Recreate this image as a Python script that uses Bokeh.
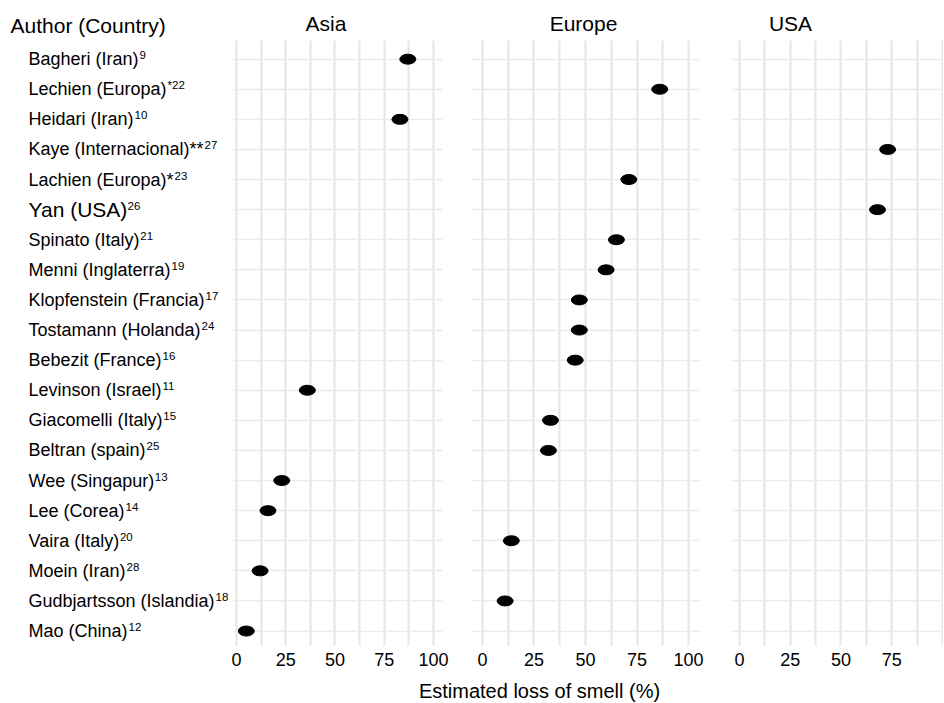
from bokeh.plotting import figure
from bokeh.layouts import row, column
from bokeh.models import Range1d, FixedTicker, ColumnDataSource
from bokeh.core.properties import value
from bokeh.embed import file_html
from bokeh.resources import INLINE

# ---------------- data ----------------
authors = [
    "Bagheri (Iran)",
    "Lechien (Europa)",
    "Heidari (Iran)",
    "Kaye (Internacional)**",
    "Lachien (Europa)*",
    "Yan (USA)",
    "Spinato (Italy)",
    "Menni (Inglaterra)",
    "Klopfenstein (Francia)",
    "Tostamann (Holanda)",
    "Bebezit (France)",
    "Levinson (Israel)",
    "Giacomelli (Italy)",
    "Beltran (spain)",
    "Wee (Singapur)",
    "Lee (Corea)",
    "Vaira (Italy)",
    "Moein (Iran)",
    "Gudbjartsson (Islandia)",
    "Mao (China)",
]
refs = ["9", "*22", "10", "27", "23", "26", "21", "19", "17", "24",
        "16", "11", "15", "25", "13", "14", "20", "28", "18", "12"]
regions = [
    "Asia", "Europe", "Asia", "USA", "Europe", "USA", "Europe", "Europe",
    "Europe", "Europe", "Europe", "Asia", "Europe", "Europe", "Asia", "Asia",
    "Europe", "Asia", "Europe", "Asia",
]
loss = [87, 86, 83, 73, 71, 68, 65, 60, 47, 47, 45, 36, 33, 32, 23, 16, 14, 12, 11, 5]

panels = ["Asia", "Europe", "USA"]
x_ticks = [0, 25, 50, 75, 100]
x_grid = [0, 12.5, 25, 37.5, 50, 62.5, 75, 87.5, 100]
y_title = "Author (Country)"
x_title = "Estimated loss of smell (%)"

# ---------------- styling / layout ----------------
FONT = "Liberation Sans"
FRAME_H = 605
BOTTOM = 30
n = len(authors)
row_idx = list(range(1, n + 1))
y_range = Range1d(n + 0.48, 0.38)

# Arial / Liberation Sans advance widths (1/1000 em) for label layout
_W = {" ": 278, "(": 333, ")": 333, "*": 389}
_W.update(dict(zip("ABCDEFGHIJKLMNOPQRSTUVWXYZ",
                   [667, 667, 722, 722, 667, 611, 778, 722, 278, 500, 667, 556, 833,
                    722, 778, 667, 778, 722, 667, 611, 722, 667, 944, 667, 667, 611])))
_W.update(dict(zip("abcdefghijklmnopqrstuvwxyz",
                   [556, 556, 500, 556, 556, 278, 556, 556, 222, 222, 500, 222, 833,
                    556, 556, 556, 556, 333, 500, 278, 556, 500, 722, 500, 500, 500])))
_KERN = {"To": -111, "Ya": -111, "Va": -74, "We": -37, "ly": -15}


def text_w(s, size):
    w = sum(_W.get(c, 556) for c in s)
    w += sum(_KERN.get(s[i:i + 2], 0) for i in range(len(s) - 1))
    return w / 1000.0 * size


panel_specs = {
    "Asia":   dict(fw=210, xr=(-2.0, 104.6), bl=4, br=28, ticks=x_ticks),
    "Europe": dict(fw=229, xr=(-5.8, 105.3), bl=0, br=32, ticks=x_ticks),
    "USA":    dict(fw=212, xr=(-3.9, 100.5), bl=0, br=0, ticks=x_ticks[:-1]),
}
title_centers = {"Asia": 325.5, "Europe": 583, "USA": 790}
TOTAL_W = 943


def blank(width, height, xr, yr):
    f = figure(frame_width=width, frame_height=height, x_range=xr, y_range=yr,
               toolbar_location=None, output_backend="svg",
               x_axis_location=None, y_axis_location=None,
               min_border_left=0, min_border_right=0, min_border_top=0, min_border_bottom=0,
               outline_line_color=None)
    f.grid.visible = False
    return f


# header with strip titles
header = blank(TOTAL_W, 40, Range1d(0, TOTAL_W), Range1d(40, 0))
header.text(x=[10], y=[25], text=[y_title], text_font=value(FONT), text_font_size=value("21px"),
            text_align="left", text_baseline="middle", text_color="black")
for name in panels:
    header.text(x=[title_centers[name]], y=[23], text=[name], text_font=value(FONT),
                text_font_size=value("21px"), text_align="center", text_baseline="middle",
                text_color="black")

# labels column (main text + superscript reference numbers)
LAB_X = 28
sizes = [21 if a.startswith("Yan") else 18 for a in authors]
labels = blank(228, FRAME_H, Range1d(0, 228), y_range)
labels.min_border_bottom = BOTTOM
lab_src = ColumnDataSource(dict(
    x=[LAB_X] * n, y=row_idx, text=authors, size=["%dpx" % s for s in sizes],
))
labels.text(x="x", y="y", text="text", source=lab_src, text_font=value(FONT),
            text_font_size="size", text_align="left", text_baseline="middle",
            text_color="black")
sup_src = ColumnDataSource(dict(
    x=[LAB_X + text_w(a, s) + 1 for a, s in zip(authors, sizes)], y=row_idx, text=refs,
))
labels.text(x="x", y="y", text="text", source=sup_src, text_font=value(FONT),
            text_font_size=value("11.5px"), text_align="left", text_baseline="middle",
            y_offset=-4, text_color="black")

figs = [labels]
for name in panels:
    s = panel_specs[name]
    p = figure(frame_width=s["fw"], frame_height=FRAME_H, x_range=Range1d(*s["xr"]),
               y_range=y_range, toolbar_location=None, output_backend="svg",
               y_axis_location=None, min_border_left=s["bl"], min_border_right=s["br"],
               min_border_top=0, min_border_bottom=BOTTOM, outline_line_color=None)
    p.xaxis.ticker = FixedTicker(ticks=s["ticks"])
    p.xaxis.axis_line_color = None
    p.xaxis.major_tick_line_color = None
    p.xaxis.minor_tick_line_color = None
    p.xaxis.major_tick_out = 0
    p.xaxis.major_tick_in = 0
    p.xaxis.major_label_standoff = 7
    p.xaxis.major_label_text_font = FONT
    p.xaxis.major_label_text_font_size = "18px"
    p.xaxis.major_label_text_color = "black"
    p.xgrid.ticker = FixedTicker(ticks=x_grid)
    p.xgrid.grid_line_color = "#e4e4e4"
    p.xgrid.grid_line_width = 2
    p.ygrid.ticker = FixedTicker(ticks=row_idx)
    p.ygrid.grid_line_color = "#ebebeb"
    p.ygrid.grid_line_width = 1.5
    sel = [i for i in range(n) if regions[i] == name]
    src = ColumnDataSource(dict(x=[loss[i] for i in sel], y=[row_idx[i] for i in sel]))
    p.ellipse(x="x", y="y", width=16, height=10, width_units="screen", height_units="screen",
              source=src, fill_color="black", line_color="black")
    figs.append(p)

# x-axis title
xlab = blank(TOTAL_W, 27, Range1d(0, TOTAL_W), Range1d(27, 0))
xlab.text(x=[539], y=[15], text=[x_title], text_font=value(FONT), text_font_size=value("20px"),
          text_align="center", text_baseline="middle", text_color="black")

layout = column(header, row(*figs), xlab)

open("out.html", "w").write(file_html(layout, INLINE))
